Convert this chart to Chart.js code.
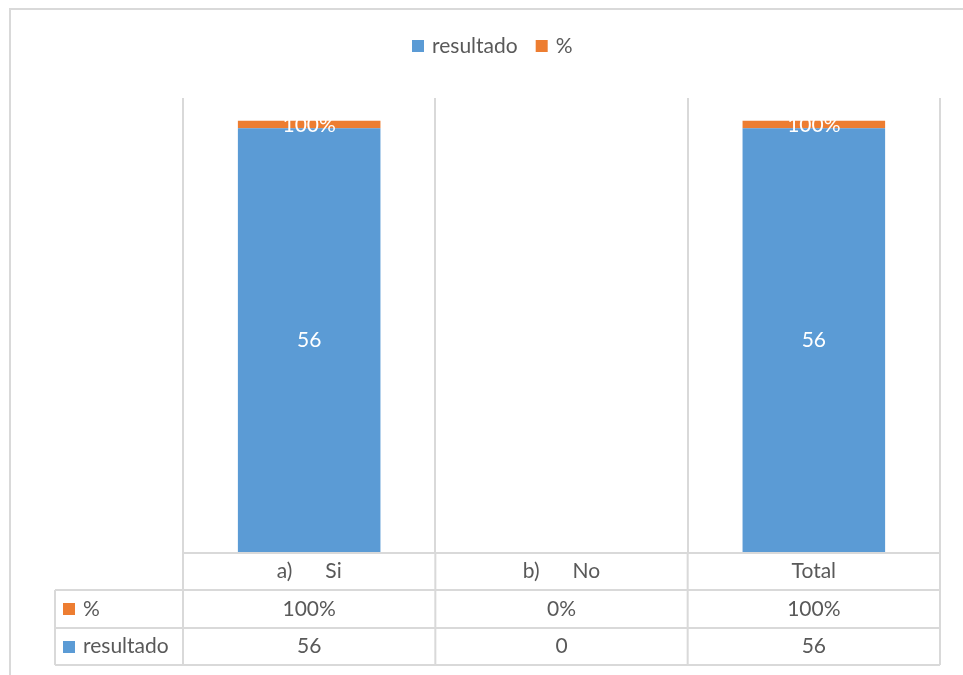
<!DOCTYPE html>
<html>
<head>
<meta charset="utf-8">
<script src="https://cdn.jsdelivr.net/npm/chart.js@4/dist/chart.umd.min.js"></script>
<style>
  html, body { margin: 0; padding: 0; background: #fff; }
  #wrap { width: 963px; height: 675px; }
</style>
</head>
<body>
<div id="wrap"><canvas id="chart" width="963" height="675"></canvas></div>
<script>
// datos del gráfico
const categorias = ['a)\tSi', 'b)\tNo', 'Total'];
const resultado = [56, 0, 56];
const porcentaje = [1, 0, 1];          // 100%, 0%, 100%
const etiquetasPct = ['100%', '0%', '100%'];

const AZUL = '#5B9BD5';
const NARANJA = '#ED7D31';
const GRIS = '#D9D9D9';
const TEXTO = '#595959';
const FUENTE = 'Lato, "Open Sans", sans-serif';
const TAM = 21;

// dibuja un texto con tabulador (a)<tab>Si) centrado en cx
function textoTab(ctx, txt, cx, cy) {
    const partes = txt.split('\t');
    if (partes.length === 1) { ctx.textAlign = 'center'; ctx.fillText(txt, cx, cy); return; }
    const gap = 33;
    const w0 = ctx.measureText(partes[0]).width;
    const w1 = ctx.measureText(partes[1]).width;
    let x = cx - (w0 + gap + w1) / 2;
    ctx.textAlign = 'left';
    ctx.fillText(partes[0], x, cy);
    ctx.fillText(partes[1], x + w0 + gap, cy);
}

const tablaPlugin = {
    id: 'tabla',
    afterDatasetsDraw(chart) {
        const ctx = chart.ctx;
        ctx.save();
        ctx.font = TAM + 'px ' + FUENTE;
        ctx.textBaseline = 'middle';
        ctx.textAlign = 'center';
        ctx.fillStyle = '#ffffff';
        // etiquetas de datos
        const m0 = chart.getDatasetMeta(0);
        const m1 = chart.getDatasetMeta(1);
        m0.data.forEach((bar, i) => {
            if (resultado[i] > 0) ctx.fillText(String(resultado[i]), bar.x, (bar.y + bar.base) / 2);
        });
        m1.data.forEach((bar, i) => {
            ctx.globalAlpha = porcentaje[i] > 0 ? 1 : 0.6;
            ctx.fillText(etiquetasPct[i], bar.x, (bar.y + bar.base) / 2 + 1);
        });
        ctx.restore();
    },
    afterDraw(chart) {
        const ctx = chart.ctx;
        const area = chart.chartArea;
        const x = chart.scales.x;
        const izq = area.left, der = area.right;
        const fil = [area.bottom, 590, 628, 665];
        const colIzq = 55;
        ctx.save();

        // marco exterior
        ctx.strokeStyle = GRIS;
        ctx.lineWidth = 2;
        ctx.strokeRect(10, 9, 1000, 1000);

        // tabla de datos
        ctx.lineWidth = 2;
        ctx.beginPath();
        ctx.moveTo(izq, fil[0]); ctx.lineTo(der, fil[0]);
        ctx.moveTo(colIzq, fil[1]); ctx.lineTo(der, fil[1]);
        ctx.moveTo(colIzq, fil[2]); ctx.lineTo(der, fil[2]);
        ctx.moveTo(colIzq, fil[3]); ctx.lineTo(der, fil[3]);
        ctx.moveTo(colIzq, fil[1]); ctx.lineTo(colIzq, fil[3]);
        const ancho = (der - izq) / categorias.length;
        for (let i = 0; i <= categorias.length; i++) {
            const px = i < categorias.length ? x.getPixelForValue(i) - ancho / 2 : x.getPixelForValue(i - 1) + ancho / 2;
            ctx.moveTo(px, fil[0]); ctx.lineTo(px, fil[3]);
        }
        ctx.stroke();

        ctx.font = TAM + 'px ' + FUENTE;
        ctx.textBaseline = 'middle';
        ctx.fillStyle = TEXTO;
        categorias.forEach((c, i) => {
            const cx = x.getPixelForValue(i);
            textoTab(ctx, c, cx, (fil[0] + fil[1]) / 2);
            ctx.textAlign = 'center';
            ctx.fillText(etiquetasPct[i], cx, (fil[1] + fil[2]) / 2);
            ctx.fillText(String(resultado[i]), cx, (fil[2] + fil[3]) / 2);
        });

        // claves de la tabla
        ctx.textAlign = 'left';
        ctx.fillStyle = NARANJA;
        ctx.fillRect(63, 603, 12, 12);
        ctx.fillStyle = AZUL;
        ctx.fillRect(63, 641, 12, 12);
        ctx.fillStyle = TEXTO;
        ctx.fillText('%', 83, (fil[1] + fil[2]) / 2);
        ctx.fillText('resultado', 83, (fil[2] + fil[3]) / 2);

        // leyenda superior
        const ds = chart.data.datasets;
        let lx = 412;
        const ly = 46;
        ds.forEach(d => {
            ctx.fillStyle = d.backgroundColor;
            ctx.fillRect(lx, ly - 6, 12, 12);
            ctx.fillStyle = TEXTO;
            ctx.fillText(d.label, lx + 20, ly);
            lx += 20 + ctx.measureText(d.label).width + 18;
        });
        ctx.restore();
    }
};

new Chart(document.getElementById('chart'), {
    type: 'bar',
    data: {
        labels: categorias,
        datasets: [
            { label: 'resultado', data: resultado, backgroundColor: AZUL },
            { label: '%', data: porcentaje, backgroundColor: NARANJA }
        ]
    },
    options: {
        responsive: false,
        animation: false,
        layout: { padding: { left: 183, right: 23, top: 98, bottom: 122 } },
        plugins: { legend: { display: false }, tooltip: { enabled: false } },
        datasets: { bar: { barPercentage: 0.565, categoryPercentage: 1 } },
        scales: {
            x: {
                stacked: true,
                grid: { color: GRIS, lineWidth: 2, offset: true, drawTicks: false },
                border: { display: false },
                ticks: { display: false },
                afterFit: s => { s.height = 0; }
            },
            y: { stacked: true, display: false, min: 0, max: 60 }
        }
    },
    plugins: [tablaPlugin]
});
</script>
</body>
</html>
